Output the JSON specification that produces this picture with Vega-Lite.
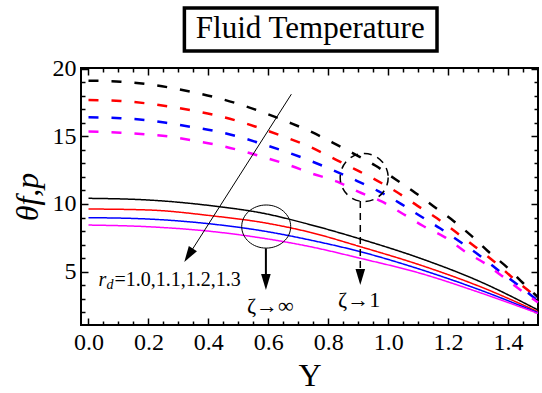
{
  "$schema": "https://vega.github.io/schema/vega-lite/v6.json",
  "width": 457,
  "height": 257,
  "autosize": {"type": "none"},
  "padding": {"left": 81, "top": 68, "right": 4, "bottom": 68},
  "background": "white",
  "config": {
    "view": {"stroke": "black", "strokeWidth": 2},
    "axis": {"grid": false, "domain": false, "tickColor": "black", "tickWidth": 1.5, "labelColor": "black", "labelFont": "Liberation Serif", "labelFontSize": 24, "titleFont": "Liberation Serif", "titleColor": "black", "titleFontWeight": "normal"}
  },
  "datasets": {
    "curves": [
      {"Y": 0.0, "theta": 19.13, "rd": "1.0", "zeta": "1"},
      {"Y": 0.107, "theta": 19.06, "rd": "1.0", "zeta": "1"},
      {"Y": 0.19, "theta": 18.89, "rd": "1.0", "zeta": "1"},
      {"Y": 0.271, "theta": 18.62, "rd": "1.0", "zeta": "1"},
      {"Y": 0.351, "theta": 18.27, "rd": "1.0", "zeta": "1"},
      {"Y": 0.431, "theta": 17.85, "rd": "1.0", "zeta": "1"},
      {"Y": 0.512, "theta": 17.33, "rd": "1.0", "zeta": "1"},
      {"Y": 0.59, "theta": 16.72, "rd": "1.0", "zeta": "1"},
      {"Y": 0.668, "theta": 16.05, "rd": "1.0", "zeta": "1"},
      {"Y": 0.74, "theta": 15.38, "rd": "1.0", "zeta": "1"},
      {"Y": 0.813, "theta": 14.57, "rd": "1.0", "zeta": "1"},
      {"Y": 0.883, "theta": 13.75, "rd": "1.0", "zeta": "1"},
      {"Y": 0.957, "theta": 12.85, "rd": "1.0", "zeta": "1"},
      {"Y": 1.023, "theta": 11.85, "rd": "1.0", "zeta": "1"},
      {"Y": 1.09, "theta": 10.84, "rd": "1.0", "zeta": "1"},
      {"Y": 1.15, "theta": 9.85, "rd": "1.0", "zeta": "1"},
      {"Y": 1.217, "theta": 8.76, "rd": "1.0", "zeta": "1"},
      {"Y": 1.28, "theta": 7.6, "rd": "1.0", "zeta": "1"},
      {"Y": 1.333, "theta": 6.5, "rd": "1.0", "zeta": "1"},
      {"Y": 1.397, "theta": 5.31, "rd": "1.0", "zeta": "1"},
      {"Y": 1.45, "theta": 4.15, "rd": "1.0", "zeta": "1"},
      {"Y": 1.5, "theta": 3.1, "rd": "1.0", "zeta": "1"},

      {"Y": 0.0, "theta": 17.7, "rd": "1.1", "zeta": "1"},
      {"Y": 0.107, "theta": 17.63, "rd": "1.1", "zeta": "1"},
      {"Y": 0.19, "theta": 17.46, "rd": "1.1", "zeta": "1"},
      {"Y": 0.271, "theta": 17.21, "rd": "1.1", "zeta": "1"},
      {"Y": 0.351, "theta": 16.91, "rd": "1.1", "zeta": "1"},
      {"Y": 0.431, "theta": 16.54, "rd": "1.1", "zeta": "1"},
      {"Y": 0.512, "theta": 16.05, "rd": "1.1", "zeta": "1"},
      {"Y": 0.59, "theta": 15.48, "rd": "1.1", "zeta": "1"},
      {"Y": 0.668, "theta": 14.86, "rd": "1.1", "zeta": "1"},
      {"Y": 0.74, "theta": 14.22, "rd": "1.1", "zeta": "1"},
      {"Y": 0.813, "theta": 13.42, "rd": "1.1", "zeta": "1"},
      {"Y": 0.887, "theta": 12.6, "rd": "1.1", "zeta": "1"},
      {"Y": 0.963, "theta": 11.73, "rd": "1.1", "zeta": "1"},
      {"Y": 1.03, "theta": 10.87, "rd": "1.1", "zeta": "1"},
      {"Y": 1.097, "theta": 9.88, "rd": "1.1", "zeta": "1"},
      {"Y": 1.163, "theta": 8.94, "rd": "1.1", "zeta": "1"},
      {"Y": 1.23, "theta": 7.85, "rd": "1.1", "zeta": "1"},
      {"Y": 1.29, "theta": 6.84, "rd": "1.1", "zeta": "1"},
      {"Y": 1.357, "theta": 5.68, "rd": "1.1", "zeta": "1"},
      {"Y": 1.417, "theta": 4.5, "rd": "1.1", "zeta": "1"},
      {"Y": 1.48, "theta": 3.38, "rd": "1.1", "zeta": "1"},
      {"Y": 1.5, "theta": 3.0, "rd": "1.1", "zeta": "1"},

      {"Y": 0.0, "theta": 16.42, "rd": "1.2", "zeta": "1"},
      {"Y": 0.107, "theta": 16.35, "rd": "1.2", "zeta": "1"},
      {"Y": 0.19, "theta": 16.22, "rd": "1.2", "zeta": "1"},
      {"Y": 0.271, "theta": 15.97, "rd": "1.2", "zeta": "1"},
      {"Y": 0.351, "theta": 15.68, "rd": "1.2", "zeta": "1"},
      {"Y": 0.431, "theta": 15.36, "rd": "1.2", "zeta": "1"},
      {"Y": 0.512, "theta": 14.91, "rd": "1.2", "zeta": "1"},
      {"Y": 0.59, "theta": 14.37, "rd": "1.2", "zeta": "1"},
      {"Y": 0.668, "theta": 13.8, "rd": "1.2", "zeta": "1"},
      {"Y": 0.74, "theta": 13.2, "rd": "1.2", "zeta": "1"},
      {"Y": 0.823, "theta": 12.44, "rd": "1.2", "zeta": "1"},
      {"Y": 0.897, "theta": 11.7, "rd": "1.2", "zeta": "1"},
      {"Y": 0.967, "theta": 10.96, "rd": "1.2", "zeta": "1"},
      {"Y": 1.04, "theta": 10.05, "rd": "1.2", "zeta": "1"},
      {"Y": 1.107, "theta": 9.11, "rd": "1.2", "zeta": "1"},
      {"Y": 1.173, "theta": 8.2, "rd": "1.2", "zeta": "1"},
      {"Y": 1.247, "theta": 7.09, "rd": "1.2", "zeta": "1"},
      {"Y": 1.307, "theta": 6.15, "rd": "1.2", "zeta": "1"},
      {"Y": 1.373, "theta": 4.99, "rd": "1.2", "zeta": "1"},
      {"Y": 1.433, "theta": 4.0, "rd": "1.2", "zeta": "1"},
      {"Y": 1.5, "theta": 2.84, "rd": "1.2", "zeta": "1"},

      {"Y": 0.0, "theta": 15.36, "rd": "1.3", "zeta": "1"},
      {"Y": 0.107, "theta": 15.28, "rd": "1.3", "zeta": "1"},
      {"Y": 0.19, "theta": 15.16, "rd": "1.3", "zeta": "1"},
      {"Y": 0.271, "theta": 14.99, "rd": "1.3", "zeta": "1"},
      {"Y": 0.351, "theta": 14.69, "rd": "1.3", "zeta": "1"},
      {"Y": 0.431, "theta": 14.37, "rd": "1.3", "zeta": "1"},
      {"Y": 0.512, "theta": 13.93, "rd": "1.3", "zeta": "1"},
      {"Y": 0.59, "theta": 13.43, "rd": "1.3", "zeta": "1"},
      {"Y": 0.668, "theta": 12.89, "rd": "1.3", "zeta": "1"},
      {"Y": 0.74, "theta": 12.3, "rd": "1.3", "zeta": "1"},
      {"Y": 0.83, "theta": 11.65, "rd": "1.3", "zeta": "1"},
      {"Y": 0.9, "theta": 10.91, "rd": "1.3", "zeta": "1"},
      {"Y": 0.98, "theta": 10.17, "rd": "1.3", "zeta": "1"},
      {"Y": 1.05, "theta": 9.26, "rd": "1.3", "zeta": "1"},
      {"Y": 1.117, "theta": 8.37, "rd": "1.3", "zeta": "1"},
      {"Y": 1.19, "theta": 7.53, "rd": "1.3", "zeta": "1"},
      {"Y": 1.257, "theta": 6.47, "rd": "1.3", "zeta": "1"},
      {"Y": 1.323, "theta": 5.6, "rd": "1.3", "zeta": "1"},
      {"Y": 1.39, "theta": 4.5, "rd": "1.3", "zeta": "1"},
      {"Y": 1.45, "theta": 3.5, "rd": "1.3", "zeta": "1"},
      {"Y": 1.5, "theta": 2.7, "rd": "1.3", "zeta": "1"},

      {"Y": 0.0, "theta": 10.42, "rd": "1.0", "zeta": "∞"},
      {"Y": 0.196, "theta": 10.3, "rd": "1.0", "zeta": "∞"},
      {"Y": 0.418, "theta": 9.85, "rd": "1.0", "zeta": "∞"},
      {"Y": 0.584, "theta": 9.31, "rd": "1.0", "zeta": "∞"},
      {"Y": 0.74, "theta": 8.47, "rd": "1.0", "zeta": "∞"},
      {"Y": 0.907, "theta": 7.41, "rd": "1.0", "zeta": "∞"},
      {"Y": 1.107, "theta": 5.98, "rd": "1.0", "zeta": "∞"},
      {"Y": 1.307, "theta": 4.25, "rd": "1.0", "zeta": "∞"},
      {"Y": 1.5, "theta": 2.15, "rd": "1.0", "zeta": "∞"},

      {"Y": 0.0, "theta": 9.63, "rd": "1.1", "zeta": "∞"},
      {"Y": 0.196, "theta": 9.56, "rd": "1.1", "zeta": "∞"},
      {"Y": 0.418, "theta": 9.11, "rd": "1.1", "zeta": "∞"},
      {"Y": 0.584, "theta": 8.62, "rd": "1.1", "zeta": "∞"},
      {"Y": 0.74, "theta": 7.9, "rd": "1.1", "zeta": "∞"},
      {"Y": 0.907, "theta": 6.84, "rd": "1.1", "zeta": "∞"},
      {"Y": 1.107, "theta": 5.48, "rd": "1.1", "zeta": "∞"},
      {"Y": 1.307, "theta": 3.88, "rd": "1.1", "zeta": "∞"},
      {"Y": 1.5, "theta": 2.02, "rd": "1.1", "zeta": "∞"},

      {"Y": 0.0, "theta": 8.99, "rd": "1.2", "zeta": "∞"},
      {"Y": 0.196, "theta": 8.89, "rd": "1.2", "zeta": "∞"},
      {"Y": 0.418, "theta": 8.5, "rd": "1.2", "zeta": "∞"},
      {"Y": 0.584, "theta": 8.0, "rd": "1.2", "zeta": "∞"},
      {"Y": 0.74, "theta": 7.33, "rd": "1.2", "zeta": "∞"},
      {"Y": 0.907, "theta": 6.47, "rd": "1.2", "zeta": "∞"},
      {"Y": 1.107, "theta": 5.16, "rd": "1.2", "zeta": "∞"},
      {"Y": 1.307, "theta": 3.63, "rd": "1.2", "zeta": "∞"},
      {"Y": 1.5, "theta": 1.95, "rd": "1.2", "zeta": "∞"},

      {"Y": 0.0, "theta": 8.44, "rd": "1.3", "zeta": "∞"},
      {"Y": 0.196, "theta": 8.32, "rd": "1.3", "zeta": "∞"},
      {"Y": 0.418, "theta": 7.95, "rd": "1.3", "zeta": "∞"},
      {"Y": 0.584, "theta": 7.46, "rd": "1.3", "zeta": "∞"},
      {"Y": 0.74, "theta": 6.84, "rd": "1.3", "zeta": "∞"},
      {"Y": 0.907, "theta": 5.98, "rd": "1.3", "zeta": "∞"},
      {"Y": 1.107, "theta": 4.87, "rd": "1.3", "zeta": "∞"},
      {"Y": 1.307, "theta": 3.43, "rd": "1.3", "zeta": "∞"},
      {"Y": 1.5, "theta": 1.9, "rd": "1.3", "zeta": "∞"}
    ],
    "anchor": [{"Y": 0.5, "theta": 10}],
    "box": [{"x1": 0.32, "x2": 1.163, "y1": 21.33, "y2": 24.52}],
    "titleText": [{"x": 0.74, "y": 22.93, "label": "Fluid Temperature"}],
    "thinArrow": [{"x1": 0.677, "y1": 18.13, "x2": 0.334, "y2": 6.2}],
    "thinHead": [{"x": 0.334, "y": 6.2}],
    "thickArrow": [{"x1": 0.592, "y1": 6.72, "x2": 0.592, "y2": 4.22}],
    "thickHead": [{"x": 0.592, "y": 4.22}],
    "dashArrow": [{"x1": 0.907, "y1": 10.22, "x2": 0.907, "y2": 4.8}],
    "dashHead": [{"x": 0.907, "y": 4.59}],
    "ellipse": [{"x": 0.593, "y": 8.33}],
    "dashCircle": [{"x": 0.92, "y": 11.96}],
    "zetaLabels": [{"x": 0.607, "y": 2.44, "label": "ζ→∞"}, {"x": 0.903, "y": 2.9, "label": "ζ→1"}],
    "rLabel": [{"x": 0.033, "y": 4.37, "label": "r"}],
    "dLabel": [{"x": 0.06, "y": 4.0, "label": "d"}],
    "valLabel": [{"x": 0.087, "y": 4.37, "label": "=1.0,1.1,1.2,1.3"}]
  },
  "resolve": {"axis": {"x": "independent", "y": "independent"}},
  "layer": [
    {
      "data": {"name": "curves"},
      "mark": {"type": "line", "interpolate": "monotone"},
      "encoding": {
        "x": {"field": "Y", "type": "quantitative", "scale": {"domain": [-0.025, 1.5], "nice": false, "zero": false},
              "axis": {"orient": "bottom", "values": [0, 0.2, 0.4, 0.6, 0.8, 1.0, 1.2, 1.4], "format": ".1f", "tickSize": -7, "labelPadding": 12, "title": "Y", "titleFontSize": 32, "titlePadding": 6}},
        "y": {"field": "theta", "type": "quantitative", "scale": {"domain": [1.04, 20.07], "nice": false, "zero": false},
              "axis": {"orient": "left", "values": [5, 10, 15, 20], "tickSize": -7, "labelPadding": 12, "title": "θf,p", "titleFontSize": 32, "titleFontStyle": "italic", "titlePadding": 8}},
        "color": {"field": "rd", "type": "nominal", "scale": {"domain": ["1.0", "1.1", "1.2", "1.3"], "range": ["#000000", "#ff0000", "#0000ff", "#ff00ff"]}, "legend": null},
        "strokeDash": {"field": "zeta", "type": "nominal", "scale": {"domain": ["1", "∞"], "range": [[10, 13], [1, 0]]}, "legend": null},
        "strokeWidth": {"field": "zeta", "type": "nominal", "scale": {"domain": ["1", "∞"], "range": [2.5, 1.5]}, "legend": null}
      }
    },
    {
      "data": {"name": "anchor"},
      "mark": {"type": "point", "opacity": 0},
      "encoding": {
        "x": {"field": "Y", "type": "quantitative", "axis": {"orient": "bottom", "values": [0.05, 0.1, 0.15, 0.25, 0.3, 0.35, 0.45, 0.5, 0.55, 0.65, 0.7, 0.75, 0.85, 0.9, 0.95, 1.05, 1.1, 1.15, 1.25, 1.3, 1.35, 1.45], "labels": false, "tickSize": -4, "title": null}},
        "y": {"field": "theta", "type": "quantitative", "axis": {"orient": "left", "values": [2, 3, 4, 6, 7, 8, 9, 11, 12, 13, 14, 16, 17, 18, 19], "labels": false, "tickSize": -4, "title": null}}
      }
    },
    {
      "data": {"name": "anchor"},
      "mark": {"type": "point", "opacity": 0},
      "encoding": {
        "x": {"field": "Y", "type": "quantitative", "axis": {"orient": "top", "values": [0, 0.2, 0.4, 0.6, 0.8, 1.0, 1.2, 1.4], "labels": false, "tickSize": -7, "title": null}},
        "y": {"field": "theta", "type": "quantitative", "axis": {"orient": "right", "values": [5, 10, 15, 20], "labels": false, "tickSize": -7, "title": null}}
      }
    },
    {
      "data": {"name": "anchor"},
      "mark": {"type": "point", "opacity": 0},
      "encoding": {
        "x": {"field": "Y", "type": "quantitative", "axis": {"orient": "top", "values": [0.05, 0.1, 0.15, 0.25, 0.3, 0.35, 0.45, 0.5, 0.55, 0.65, 0.7, 0.75, 0.85, 0.9, 0.95, 1.05, 1.1, 1.15, 1.25, 1.3, 1.35, 1.45], "labels": false, "tickSize": -4, "title": null}},
        "y": {"field": "theta", "type": "quantitative", "axis": {"orient": "right", "values": [2, 3, 4, 6, 7, 8, 9, 11, 12, 13, 14, 16, 17, 18, 19], "labels": false, "tickSize": -4, "title": null}}
      }
    },
    {
      "data": {"name": "box"},
      "mark": {"type": "rect", "fill": "white", "stroke": "black", "strokeWidth": 3.5, "clip": false},
      "encoding": {
        "x": {"field": "x1", "type": "quantitative", "axis": null},
        "x2": {"field": "x2"},
        "y": {"field": "y1", "type": "quantitative", "axis": null},
        "y2": {"field": "y2"}
      }
    },
    {
      "data": {"name": "titleText"},
      "mark": {"type": "text", "font": "Liberation Serif", "fontSize": 31, "color": "black", "align": "center", "baseline": "middle"},
      "encoding": {
        "x": {"field": "x", "type": "quantitative", "axis": null},
        "y": {"field": "y", "type": "quantitative", "axis": null},
        "text": {"field": "label"}
      }
    },
    {
      "data": {"name": "thinArrow"},
      "mark": {"type": "rule", "color": "black", "strokeWidth": 1},
      "encoding": {
        "x": {"field": "x1", "type": "quantitative", "axis": null},
        "y": {"field": "y1", "type": "quantitative", "axis": null},
        "x2": {"field": "x2"},
        "y2": {"field": "y2"}
      }
    },
    {
      "data": {"name": "thinHead"},
      "mark": {"type": "point", "shape": "M0,1L-0.6,-1L0.6,-1Z", "size": 256, "filled": true, "color": "black", "opacity": 1, "angle": 32.5},
      "encoding": {
        "x": {"field": "x", "type": "quantitative", "axis": null},
        "y": {"field": "y", "type": "quantitative", "axis": null}
      }
    },
    {
      "data": {"name": "thickArrow"},
      "mark": {"type": "rule", "color": "black", "strokeWidth": 2},
      "encoding": {
        "x": {"field": "x1", "type": "quantitative", "axis": null},
        "y": {"field": "y1", "type": "quantitative", "axis": null},
        "x2": {"field": "x2"},
        "y2": {"field": "y2"}
      }
    },
    {
      "data": {"name": "thickHead"},
      "mark": {"type": "point", "shape": "M0,1L-0.6,-1L0.6,-1Z", "size": 256, "filled": true, "color": "black", "opacity": 1},
      "encoding": {
        "x": {"field": "x", "type": "quantitative", "axis": null},
        "y": {"field": "y", "type": "quantitative", "axis": null}
      }
    },
    {
      "data": {"name": "dashArrow"},
      "mark": {"type": "rule", "color": "black", "strokeWidth": 1.5, "strokeDash": [7, 5]},
      "encoding": {
        "x": {"field": "x1", "type": "quantitative", "axis": null},
        "y": {"field": "y1", "type": "quantitative", "axis": null},
        "x2": {"field": "x2"},
        "y2": {"field": "y2"}
      }
    },
    {
      "data": {"name": "dashHead"},
      "mark": {"type": "point", "shape": "M0,1L-0.6,-1L0.6,-1Z", "size": 256, "filled": true, "color": "black", "opacity": 1},
      "encoding": {
        "x": {"field": "x", "type": "quantitative", "axis": null},
        "y": {"field": "y", "type": "quantitative", "axis": null}
      }
    },
    {
      "data": {"name": "ellipse"},
      "mark": {"type": "point", "shape": "M-1,0A1,0.88 0 1,1 1,0A1,0.88 0 1,1 -1,0Z", "size": 2401, "filled": false, "color": "black", "strokeWidth": 1, "opacity": 1},
      "encoding": {
        "x": {"field": "x", "type": "quantitative", "axis": null},
        "y": {"field": "y", "type": "quantitative", "axis": null}
      }
    },
    {
      "data": {"name": "dashCircle"},
      "mark": {"type": "point", "shape": "circle", "size": 2304, "filled": false, "color": "black", "strokeWidth": 1.5, "strokeDash": [8, 6], "opacity": 1},
      "encoding": {
        "x": {"field": "x", "type": "quantitative", "axis": null},
        "y": {"field": "y", "type": "quantitative", "axis": null}
      }
    },
    {
      "data": {"name": "zetaLabels"},
      "mark": {"type": "text", "font": "Liberation Serif", "fontSize": 22, "color": "black", "align": "center", "baseline": "middle"},
      "encoding": {
        "x": {"field": "x", "type": "quantitative", "axis": null},
        "y": {"field": "y", "type": "quantitative", "axis": null},
        "text": {"field": "label"}
      }
    },
    {
      "data": {"name": "rLabel"},
      "mark": {"type": "text", "font": "Liberation Serif", "fontSize": 20, "fontStyle": "italic", "color": "black", "align": "left", "baseline": "middle"},
      "encoding": {
        "x": {"field": "x", "type": "quantitative", "axis": null},
        "y": {"field": "y", "type": "quantitative", "axis": null},
        "text": {"field": "label"}
      }
    },
    {
      "data": {"name": "dLabel"},
      "mark": {"type": "text", "font": "Liberation Serif", "fontSize": 14, "fontStyle": "italic", "color": "black", "align": "left", "baseline": "middle"},
      "encoding": {
        "x": {"field": "x", "type": "quantitative", "axis": null},
        "y": {"field": "y", "type": "quantitative", "axis": null},
        "text": {"field": "label"}
      }
    },
    {
      "data": {"name": "valLabel"},
      "mark": {"type": "text", "font": "Liberation Serif", "fontSize": 20, "color": "black", "align": "left", "baseline": "middle"},
      "encoding": {
        "x": {"field": "x", "type": "quantitative", "axis": null},
        "y": {"field": "y", "type": "quantitative", "axis": null},
        "text": {"field": "label"}
      }
    }
  ]
}
